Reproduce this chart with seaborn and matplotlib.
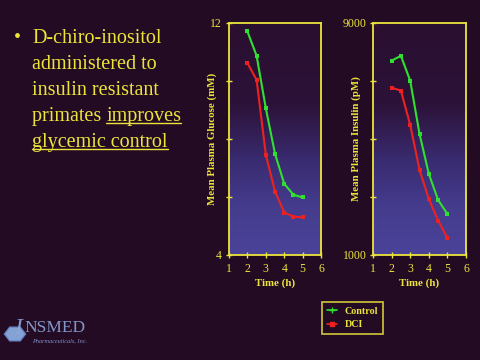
import numpy as np
import pandas as pd
import matplotlib
matplotlib.use("Agg")
import matplotlib.pyplot as plt
from matplotlib.colors import LinearSegmentedColormap
from matplotlib.patches import RegularPolygon
from matplotlib.lines import Line2D
import seaborn as sns

# ---- data ----
time_h = [2, 2.5, 3, 3.5, 4, 4.5, 5]
glucose_control = [11.7, 10.86, 9.05, 7.48, 6.45, 6.07, 5.98]
glucose_dci = [10.61, 10.03, 7.45, 6.18, 5.46, 5.32, 5.29]
insulin_control = [7690, 7860, 7000, 5170, 3790, 2890, 2410]
insulin_dci = [6760, 6660, 5480, 3930, 2920, 2180, 1580]
groups = ["Control", "DCI"]
bullet_lines = ["D-chiro-inositol", "administered to", "insulin resistant"]

sns.set_theme(style="white")
plt.rcParams['font.family'] = ['Liberation Serif', 'DejaVu Serif']

BG = "#230b24"
YEL = "#ece43a"
GREEN = "#30e030"
RED = "#ee2020"

fig = plt.figure(figsize=(4.8, 3.6), dpi=100, facecolor=BG)

cmap = LinearSegmentedColormap.from_list(
    "bgmix", [(0.0, "#2a0f30"), (0.35, "#2c1238"), (0.6, "#3a2c72"), (0.8, "#453c8e"), (1.0, "#4a4398")])

def make_df(c, d):
    return pd.DataFrame({
        "Time": time_h * 2,
        "Value": c + d,
        "Group": [groups[0]] * len(time_h) + [groups[1]] * len(time_h),
    })

def style_ax(ax, ylim, yticks, ylabels, ylabel):
    ax.set_xlim(1, 6)
    ax.set_ylim(*ylim)
    grad = np.linspace(0, 1, 256).reshape(-1, 1)
    ax.imshow(grad, aspect="auto", cmap=cmap, extent=[1, 6, ylim[0], ylim[1]],
              origin="upper", zorder=0)
    ax.set_facecolor("#2a0f30")
    for s in ax.spines.values():
        s.set_color(YEL)
        s.set_linewidth(1.3)
    ax.set_xticks([1, 2, 3, 4, 5, 6])
    ax.set_xticklabels(["1", "2", "3", "4", "5", "6"])
    ax.set_yticks(yticks)
    ax.set_yticklabels(ylabels)
    ax.tick_params(colors=YEL, labelcolor=YEL, labelsize=8.5, direction="inout",
                   length=5, width=1, pad=3, bottom=True, left=True)
    ax.set_xlabel("Time (h)", color=YEL, fontsize=7.8, fontweight="bold", labelpad=3)
    ax.set_ylabel(ylabel, color=YEL, fontsize=7.8, fontweight="bold")
    ax.yaxis.set_label_coords(-0.13, 0.5)

ax1 = fig.add_axes([0.477, 0.292, 0.192, 0.645])
ax2 = fig.add_axes([0.777, 0.292, 0.194, 0.645])

palette = {"Control": GREEN, "DCI": RED}
sns.lineplot(data=make_df(glucose_control, glucose_dci), x="Time", y="Value", hue="Group",
             palette=palette, marker="s", markersize=3.5, markeredgewidth=0, linewidth=1.5,
             ax=ax1, legend=False, zorder=3)
sns.lineplot(data=make_df(insulin_control, insulin_dci), x="Time", y="Value", hue="Group",
             palette=palette, marker="s", markersize=3.5, markeredgewidth=0, linewidth=1.5,
             ax=ax2, legend=False, zorder=3)

style_ax(ax1, (4, 12), [4, 6, 8, 10, 12], ["4", "", "", "", "12"], "Mean Plasma Glucose (mM)")
style_ax(ax2, (1000, 9000), [1000, 3000, 5000, 7000, 9000], ["1000", "", "", "", "9000"],
         "Mean Plasma Insulin (pM)")
ax2.tick_params(axis="y", pad=2)

# legend
handles = [Line2D([0], [0], color=GREEN, marker="+", markersize=5, linewidth=1.2),
           Line2D([0], [0], color=RED, marker="s", markersize=3, linewidth=1.2)]
leg = fig.legend(handles, groups, loc="upper left", bbox_to_anchor=(322 / 480, 1 - 302 / 360),
                 borderaxespad=0, frameon=True, fancybox=False, handlelength=1.0,
                 handletextpad=0.8, borderpad=0.45, labelspacing=0.45,
                 prop={"weight": "bold", "size": 7.2})
leg.get_frame().set_edgecolor(YEL)
leg.get_frame().set_facecolor(BG)
leg.get_frame().set_linewidth(1.3)
for t in leg.get_texts():
    t.set_color(YEL)

# bullet text
FS = 14.5
x0 = 32 / 480
ys = [43, 69, 95, 121, 147]
fig.text(14 / 480, 1 - ys[0] / 360, "\u2022", color=YEL, fontsize=FS, va="baseline", ha="left")
for i, line in enumerate(bullet_lines):
    fig.text(x0, 1 - ys[i] / 360, line, color=YEL, fontsize=FS, va="baseline", ha="left")

t_prim = fig.text(x0, 1 - ys[3] / 360, "primates ", color=YEL, fontsize=FS, va="baseline", ha="left")
fig.canvas.draw()
r = fig.canvas.get_renderer()
bb = t_prim.get_window_extent(r)
t_imp = fig.text(bb.x1 / fig.bbox.width, 1 - ys[3] / 360, "improves", color=YEL, fontsize=FS,
                 va="baseline", ha="left")
t_gly = fig.text(x0, 1 - ys[4] / 360, "glycemic control", color=YEL, fontsize=FS,
                 va="baseline", ha="left")
fig.canvas.draw()
for t, yy in [(t_imp, ys[3]), (t_gly, ys[4])]:
    b = t.get_window_extent(r)
    yl = 1 - (yy + 2) / 360
    fig.add_artist(Line2D([b.x0 / fig.bbox.width, b.x1 / fig.bbox.width], [yl, yl],
                          color=YEL, linewidth=1.0, transform=fig.transFigure))

# logo
hexp = RegularPolygon((15 / 480, 1 - 334 / 360), numVertices=6, radius=0.022,
                      orientation=np.pi / 6, transform=fig.transFigure,
                      facecolor="#8fb4e8", edgecolor="#6a88c8", alpha=0.9)
fig.add_artist(hexp)
fig.text(14 / 480, 1 - 334 / 360, "I", color="#8ea6dc", fontsize=17, style="italic",
         va="baseline", ha="left", alpha=0.9)
fig.text(24 / 480, 1 - 332 / 360, "NSMED", color="#8ea6dc", fontsize=12.5,
         va="baseline", ha="left", alpha=0.9)
fig.text(32 / 480, 1 - 341 / 360, "Pharmaceuticals, Inc.", color="#7f90c8", fontsize=4.5,
         style="italic", va="center", ha="left")

fig.savefig("out.png", dpi=100, facecolor=BG)
